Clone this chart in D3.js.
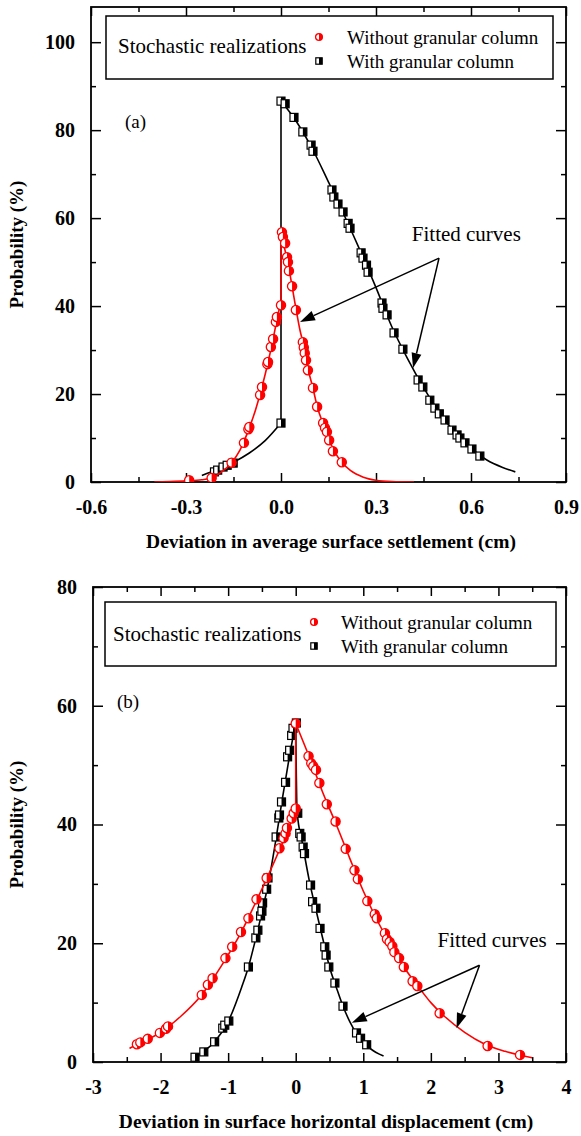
<!DOCTYPE html>
<html>
<head>
<meta charset="utf-8">
<script src="https://cdn.jsdelivr.net/npm/d3@7"></script>
<style>
  html, body { margin: 0; padding: 0; background: #fff; }
  svg { display: block; }
</style>
</head>
<body>
<svg id="chart" width="581" height="1136"></svg>
<script>
// ---------- Panel (a): deviation in average surface settlement (cm) ----------
const settleXTicks = [-0.6, -0.3, 0.0, 0.3, 0.6, 0.9];
const settleXTickLabels = ["-0.6", "-0.3", "0.0", "0.3", "0.6", "0.9"];
const settleYTicks = [0, 20, 40, 60, 80, 100];

// realizations without granular column [deviation, probability %]
const settleWithout = [
  [-0.29, 0.4], [-0.219, 0.9], [-0.156, 4.4], [-0.117, 8.9], [-0.103, 12.0], [-0.1, 12.5],
  [-0.066, 19.8], [-0.06, 21.6], [-0.043, 26.8], [-0.041, 27.3], [-0.032, 30.7], [-0.025, 32.5],
  [-0.016, 36.4], [-0.013, 37.5], [0.0, 40.2],
  [0.003, 56.8], [0.006, 55.7], [0.013, 54.3], [0.019, 51.1], [0.022, 50.0], [0.025, 48.0],
  [0.035, 44.5], [0.047, 39.1], [0.069, 31.8], [0.072, 30.6], [0.075, 29.3], [0.079, 27.7],
  [0.085, 25.4], [0.101, 21.4], [0.114, 17.1], [0.133, 13.4], [0.139, 12.3], [0.145, 11.4],
  [0.152, 9.5], [0.164, 7.0], [0.192, 4.5]
];
// realizations with granular column
const settleWith = [
  [-0.21, 2.3], [-0.2, 2.7], [-0.183, 3.4], [-0.17, 3.8], [-0.151, 4.3], [0.0, 13.4],
  [0.0, 86.6], [0.013, 86.0], [0.041, 82.9], [0.069, 79.6], [0.095, 76.6], [0.101, 75.2],
  [0.161, 66.4], [0.167, 64.8], [0.18, 63.2], [0.196, 61.4], [0.212, 58.8], [0.218, 57.7],
  [0.253, 52.1], [0.259, 50.9], [0.27, 49.3], [0.275, 47.7], [0.319, 40.7], [0.322, 39.5],
  [0.335, 38.0], [0.357, 33.9], [0.385, 30.2], [0.433, 23.2], [0.448, 21.6], [0.47, 18.6],
  [0.486, 16.8], [0.5, 15.5], [0.518, 14.1], [0.54, 11.8], [0.556, 10.7], [0.565, 10.0],
  [0.581, 8.9], [0.603, 7.5], [0.628, 5.9]
];
// fitted curves (left branch up to x = 0, right branch from x = 0)
const settleFitWithoutLeft = [
  [-0.40, 0.0], [-0.35, 0.1], [-0.30, 0.25], [-0.25, 0.5], [-0.22, 0.9], [-0.19, 2.2],
  [-0.156, 4.4], [-0.13, 7.2], [-0.10, 12.3], [-0.08, 16.5], [-0.06, 21.6], [-0.04, 27.5],
  [-0.025, 32.5], [-0.012, 37.2], [0.0, 41.0]
];
const settleFitWithoutRight = [
  [0.0, 57.0], [0.01, 53.5], [0.02, 50.5], [0.035, 44.5], [0.047, 39.5], [0.06, 34.5],
  [0.07, 31.5], [0.085, 25.8], [0.10, 21.6], [0.115, 17.0], [0.133, 13.2], [0.152, 9.6],
  [0.17, 6.8], [0.192, 4.5], [0.22, 2.6], [0.26, 1.1], [0.30, 0.4], [0.35, 0.1], [0.42, 0.0]
];
const settleFitWithLeft = [
  [-0.25, 1.5], [-0.2, 2.9], [-0.15, 4.5], [-0.1, 6.6], [-0.05, 9.4], [0.0, 13.4]
];
const settleFitWithRight = [
  [0.0, 86.6], [0.05, 81.8], [0.1, 75.6], [0.15, 68.2], [0.2, 60.6], [0.25, 52.6],
  [0.3, 44.2], [0.35, 35.3], [0.4, 28.0], [0.45, 21.5], [0.5, 15.8], [0.55, 11.2],
  [0.6, 7.7], [0.65, 5.0], [0.7, 3.3], [0.74, 2.3]
];

// ---------- Panel (b): deviation in surface horizontal displacement (cm) ----------
const dispXTicks = [-3, -2, -1, 0, 1, 2, 3, 4];
const dispXTickLabels = ["-3", "-2", "-1", "0", "1", "2", "3", "4"];
const dispYTicks = [0, 20, 40, 60, 80];

const dispWithout = [
  [-2.35, 3.0], [-2.3, 3.3], [-2.19, 3.9], [-2.01, 4.9], [-1.92, 5.6], [-1.89, 6.0],
  [-1.39, 11.3], [-1.3, 13.0], [-1.23, 14.1], [-1.04, 17.5], [-0.94, 19.4], [-0.81, 21.9],
  [-0.7, 24.2], [-0.58, 27.4], [-0.43, 31.0], [-0.24, 36.0], [-0.18, 37.7], [-0.15, 38.5],
  [-0.13, 39.4], [-0.06, 41.0], [-0.03, 41.9], [0.0, 42.7],
  [0.0, 57.0], [0.19, 51.5], [0.23, 50.3], [0.26, 49.8], [0.3, 49.2], [0.35, 47.0],
  [0.46, 43.4], [0.59, 40.5], [0.74, 35.9], [0.87, 32.3], [0.92, 30.8], [1.06, 27.1],
  [1.17, 24.9], [1.2, 24.2], [1.32, 21.7], [1.35, 20.7], [1.39, 20.2], [1.43, 19.5],
  [1.46, 18.5], [1.53, 17.5], [1.6, 16.0], [1.73, 13.6], [1.8, 12.8], [2.13, 8.2],
  [2.84, 2.7], [3.32, 1.2]
];
const dispWith = [
  [-1.49, 0.8], [-1.36, 1.7], [-1.2, 3.4], [-1.08, 5.7], [-1.05, 6.2], [-0.99, 6.9],
  [-0.7, 16.0], [-0.59, 20.9], [-0.56, 22.2], [-0.52, 24.6], [-0.5, 25.4], [-0.49, 26.8],
  [-0.43, 29.1], [-0.41, 31.0], [-0.29, 37.9], [-0.25, 41.1], [-0.24, 41.6], [-0.21, 43.8],
  [-0.15, 47.1], [-0.12, 51.4], [-0.09, 52.5], [-0.06, 55.0], [-0.04, 56.2], [0.01, 57.1],
  [0.03, 41.9], [0.06, 38.5], [0.08, 37.9], [0.11, 36.2], [0.13, 35.1], [0.22, 29.8],
  [0.25, 27.0], [0.3, 25.9], [0.36, 22.5], [0.43, 19.4], [0.45, 18.0], [0.49, 16.0],
  [0.58, 13.3], [0.7, 9.4], [0.9, 4.9], [0.96, 4.0], [1.05, 2.9]
];
const dispFitWithoutLeft = [
  [-2.46, 2.3], [-2.3, 3.2], [-2.0, 5.0], [-1.7, 7.7], [-1.4, 11.2], [-1.1, 16.2],
  [-0.8, 22.0], [-0.6, 26.7], [-0.4, 31.6], [-0.2, 36.8], [-0.1, 39.5], [0.0, 42.7]
];
const dispFitWithoutRight = [
  [0.0, 57.0], [0.2, 51.4], [0.4, 45.4], [0.6, 40.0], [0.8, 34.3], [1.0, 28.8],
  [1.2, 24.0], [1.4, 19.8], [1.6, 16.0], [1.8, 12.9], [2.0, 10.0], [2.2, 7.7],
  [2.5, 5.0], [2.8, 3.0], [3.1, 1.8], [3.5, 0.7]
];
const dispFitWithLeft = [
  [-1.55, 0.4], [-1.4, 1.5], [-1.2, 3.4], [-1.0, 6.8], [-0.8, 12.6], [-0.7, 16.0],
  [-0.6, 20.4], [-0.5, 25.2], [-0.4, 30.4], [-0.3, 37.0], [-0.2, 44.2], [-0.1, 51.0],
  [0.0, 57.1]
];
const dispFitWithRight = [
  [0.0, 57.1], [0.02, 42.2], [0.1, 36.8], [0.2, 30.6], [0.3, 25.6], [0.4, 20.8],
  [0.5, 16.0], [0.6, 12.6], [0.7, 9.4], [0.8, 6.8], [0.9, 4.8], [1.0, 3.4],
  [1.1, 2.3], [1.3, 1.0]
];

// legend and annotation text
const legendTitle = "Stochastic realizations";
const seriesNames = ["Without granular column", "With granular column"];
const fitLabel = "Fitted curves";

const RED = "#ff0000";
const BLACK = "#000000";
const SERIF = "'Liberation Serif', 'Times New Roman', serif";

const svg = d3.select("#chart");

function drawPanel(cfg) {
  const x = d3.scaleLinear().domain(cfg.xDomain).range([cfg.left, cfg.right]);
  const y = d3.scaleLinear().domain(cfg.yDomain).range([cfg.bottom, cfg.top]);
  const g = svg.append("g");

  // inward ticks on all four sides
  const axB = d3.axisBottom(x).tickValues(cfg.xTicks).tickSize(-9).tickFormat((d, i) => cfg.xTickLabels[i]).tickPadding(18);
  const axT = d3.axisTop(x).tickValues(cfg.xTicks).tickSize(-9).tickFormat("");
  const axL = d3.axisLeft(y).tickValues(cfg.yTicks).tickSize(-10).tickFormat(d3.format("d")).tickPadding(16);
  const axR = d3.axisRight(y).tickValues(cfg.yTicks).tickSize(-10).tickFormat("");
  const mAxB = d3.axisBottom(x).tickValues(cfg.xMinor).tickSize(-5).tickFormat("");
  const mAxT = d3.axisTop(x).tickValues(cfg.xMinor).tickSize(-5).tickFormat("");
  const mAxL = d3.axisLeft(y).tickValues(cfg.yMinor).tickSize(-5).tickFormat("");
  const mAxR = d3.axisRight(y).tickValues(cfg.yMinor).tickSize(-5).tickFormat("");

  const place = [
    [axB, 0, cfg.bottom], [mAxB, 0, cfg.bottom],
    [axT, 0, cfg.top], [mAxT, 0, cfg.top],
    [axL, cfg.left, 0], [mAxL, cfg.left, 0],
    [axR, cfg.right, 0], [mAxR, cfg.right, 0]
  ];
  place.forEach(([ax, tx, ty]) => {
    const a = g.append("g").attr("transform", `translate(${tx},${ty})`).call(ax);
    a.select(".domain").remove();
    a.selectAll(".tick line").attr("stroke", BLACK).attr("stroke-width", 1.5);
    a.selectAll(".tick text")
      .attr("font-family", SERIF).attr("font-weight", "bold")
      .attr("font-size", 20).attr("fill", BLACK);
  });

  // frame
  g.append("rect")
    .attr("x", cfg.left).attr("y", cfg.top)
    .attr("width", cfg.right - cfg.left).attr("height", cfg.bottom - cfg.top)
    .attr("fill", "none").attr("stroke", BLACK).attr("stroke-width", 1.8);

  // axis titles
  g.append("text")
    .attr("x", cfg.xTitleX).attr("y", cfg.xTitleY)
    .attr("text-anchor", "middle")
    .attr("font-family", SERIF).attr("font-weight", "bold").attr("font-size", 19.5)
    .text(cfg.xTitle);
  g.append("text")
    .attr("transform", `translate(${cfg.yTitleX},${(cfg.top + cfg.bottom) / 2}) rotate(-90)`)
    .attr("text-anchor", "middle")
    .attr("font-family", SERIF).attr("font-weight", "bold").attr("font-size", 19)
    .text("Probability (%)");

  // clip to plotting area
  const clipId = "clip-" + cfg.id;
  svg.append("clipPath").attr("id", clipId)
    .append("rect").attr("x", cfg.left).attr("y", cfg.top)
    .attr("width", cfg.right - cfg.left).attr("height", cfg.bottom - cfg.top);
  const plot = g.append("g").attr("clip-path", `url(#${clipId})`);

  const line = d3.line().x(d => x(d[0])).y(d => y(d[1])).curve(d3.curveMonotoneX);

  function fitted(leftPts, rightPts, color) {
    plot.append("path").attr("d", line(leftPts))
      .attr("fill", "none").attr("stroke", color).attr("stroke-width", 1.6);
    plot.append("path").attr("d", line(rightPts))
      .attr("fill", "none").attr("stroke", color).attr("stroke-width", 1.6);
    const a = leftPts[leftPts.length - 1], b = rightPts[0];
    plot.append("line")
      .attr("x1", x(a[0])).attr("y1", y(a[1])).attr("x2", x(b[0])).attr("y2", y(b[1]))
      .attr("stroke", color).attr("stroke-width", 1.6);
  }

  // black series first, red on top
  fitted(cfg.fitWithLeft, cfg.fitWithRight, BLACK);
  squares(plot, cfg.withPts.map(d => [x(d[0]), y(d[1])]), 4);
  fitted(cfg.fitWithoutLeft, cfg.fitWithoutRight, RED);
  circles(plot, cfg.withoutPts.map(d => [x(d[0]), y(d[1])]), 4.6);

  // panel label
  g.append("text").attr("x", cfg.tagX).attr("y", cfg.tagY)
    .attr("font-family", SERIF).attr("font-size", 19).text(cfg.tag);

  // legend
  const L = cfg.legend;
  g.append("rect").attr("x", L.x).attr("y", L.y).attr("width", L.w).attr("height", L.h)
    .attr("fill", "#fff").attr("stroke", BLACK).attr("stroke-width", 1.5);
  g.append("text").attr("x", L.titleX).attr("y", L.titleY)
    .attr("font-family", SERIF).attr("font-size", 21).text(legendTitle);
  circles(g, [[L.markX, L.row1]], 3.4);
  squares(g, [[L.markX, L.row2]], 3.2);
  g.append("text").attr("x", L.textX).attr("y", L.row1 + 7)
    .attr("font-family", SERIF).attr("font-size", 19).text(seriesNames[0]);
  g.append("text").attr("x", L.textX).attr("y", L.row2 + 7)
    .attr("font-family", SERIF).attr("font-size", 19).text(seriesNames[1]);

  // "Fitted curves" annotation with two arrows
  const A = cfg.note;
  g.append("text").attr("x", x(A.text[0])).attr("y", y(A.text[1]))
    .attr("font-family", SERIF).attr("font-size", 21).text(fitLabel);
  A.tips.forEach(t => arrow(g, x(A.apex[0]), y(A.apex[1]), x(t[0]), y(t[1])));
}

function circles(sel, pts, r) {
  const c = sel.append("g").selectAll("g").data(pts).join("g")
    .attr("transform", d => `translate(${d[0]},${d[1]})`);
  c.append("circle").attr("r", r).attr("fill", "#fff");
  c.append("path")
    .attr("d", `M0,${-r} A${r},${r} 0 0,1 0,${r} Z`)
    .attr("fill", RED);
  c.append("circle").attr("r", r).attr("fill", "none").attr("stroke", RED).attr("stroke-width", 1.3);
}

function squares(sel, pts, h) {
  const s = sel.append("g").selectAll("g").data(pts).join("g")
    .attr("transform", d => `translate(${d[0]},${d[1]})`);
  s.append("rect").attr("x", -h).attr("y", -h).attr("width", 2 * h).attr("height", 2 * h).attr("fill", "#fff");
  s.append("rect").attr("x", 0).attr("y", -h).attr("width", h).attr("height", 2 * h).attr("fill", BLACK);
  s.append("rect").attr("x", -h).attr("y", -h).attr("width", 2 * h).attr("height", 2 * h)
    .attr("fill", "none").attr("stroke", BLACK).attr("stroke-width", 1.2);
}

function arrow(sel, x1, y1, x2, y2) {
  const ang = Math.atan2(y2 - y1, x2 - x1);
  const len = 15, half = 5;
  const bx = x2 - len * Math.cos(ang), by = y2 - len * Math.sin(ang);
  sel.append("line").attr("x1", x1).attr("y1", y1).attr("x2", bx).attr("y2", by)
    .attr("stroke", BLACK).attr("stroke-width", 1.5);
  const px = -Math.sin(ang) * half, py = Math.cos(ang) * half;
  sel.append("path")
    .attr("d", `M${x2},${y2} L${bx + px},${by + py} L${bx - px},${by - py} Z`)
    .attr("fill", BLACK);
}

drawPanel({
  id: "a",
  left: 91, right: 566, top: 7, bottom: 482,
  xDomain: [-0.6, 0.9], yDomain: [0, 108],
  xTicks: settleXTicks, xTickLabels: settleXTickLabels,
  xMinor: [-0.45, -0.15, 0.15, 0.45, 0.75],
  yTicks: settleYTicks, yMinor: [10, 30, 50, 70, 90],
  xTitle: "Deviation in average surface settlement (cm)", xTitleX: 331, xTitleY: 548,
  yTitleX: 23,
  withoutPts: settleWithout, withPts: settleWith,
  fitWithoutLeft: settleFitWithoutLeft, fitWithoutRight: settleFitWithoutRight,
  fitWithLeft: settleFitWithLeft, fitWithRight: settleFitWithRight,
  tag: "(a)", tagX: 125, tagY: 128,
  legend: { x: 106, y: 16, w: 447, h: 63, titleX: 118, titleY: 53, markX: 319, row1: 37, row2: 61, textX: 347 },
  note: { text: [0.413, 54.8], apex: [0.499, 50.9], tips: [[0.06, 36.4], [0.417, 25.9]] }
});

drawPanel({
  id: "b",
  left: 93, right: 566, top: 587, bottom: 1062,
  xDomain: [-3, 4], yDomain: [0, 80],
  xTicks: dispXTicks, xTickLabels: dispXTickLabels,
  xMinor: [-2.5, -1.5, -0.5, 0.5, 1.5, 2.5, 3.5],
  yTicks: dispYTicks, yMinor: [10, 30, 50, 70],
  xTitle: "Deviation in surface horizontal displacement (cm)", xTitleX: 326, xTitleY: 1128,
  yTitleX: 23,
  withoutPts: dispWithout, withPts: dispWith,
  fitWithoutLeft: dispFitWithoutLeft, fitWithoutRight: dispFitWithoutRight,
  fitWithLeft: dispFitWithLeft, fitWithRight: dispFitWithRight,
  tag: "(b)", tagX: 117, tagY: 708,
  legend: { x: 105, y: 602, w: 451, h: 64, titleX: 113, titleY: 641, markX: 314, row1: 622, row2: 646, textX: 341 },
  note: { text: [2.1, 19.4], apex: [2.72, 16.3], tips: [[0.83, 6.6], [2.38, 5.7]] }
});
</script>
</body>
</html>
